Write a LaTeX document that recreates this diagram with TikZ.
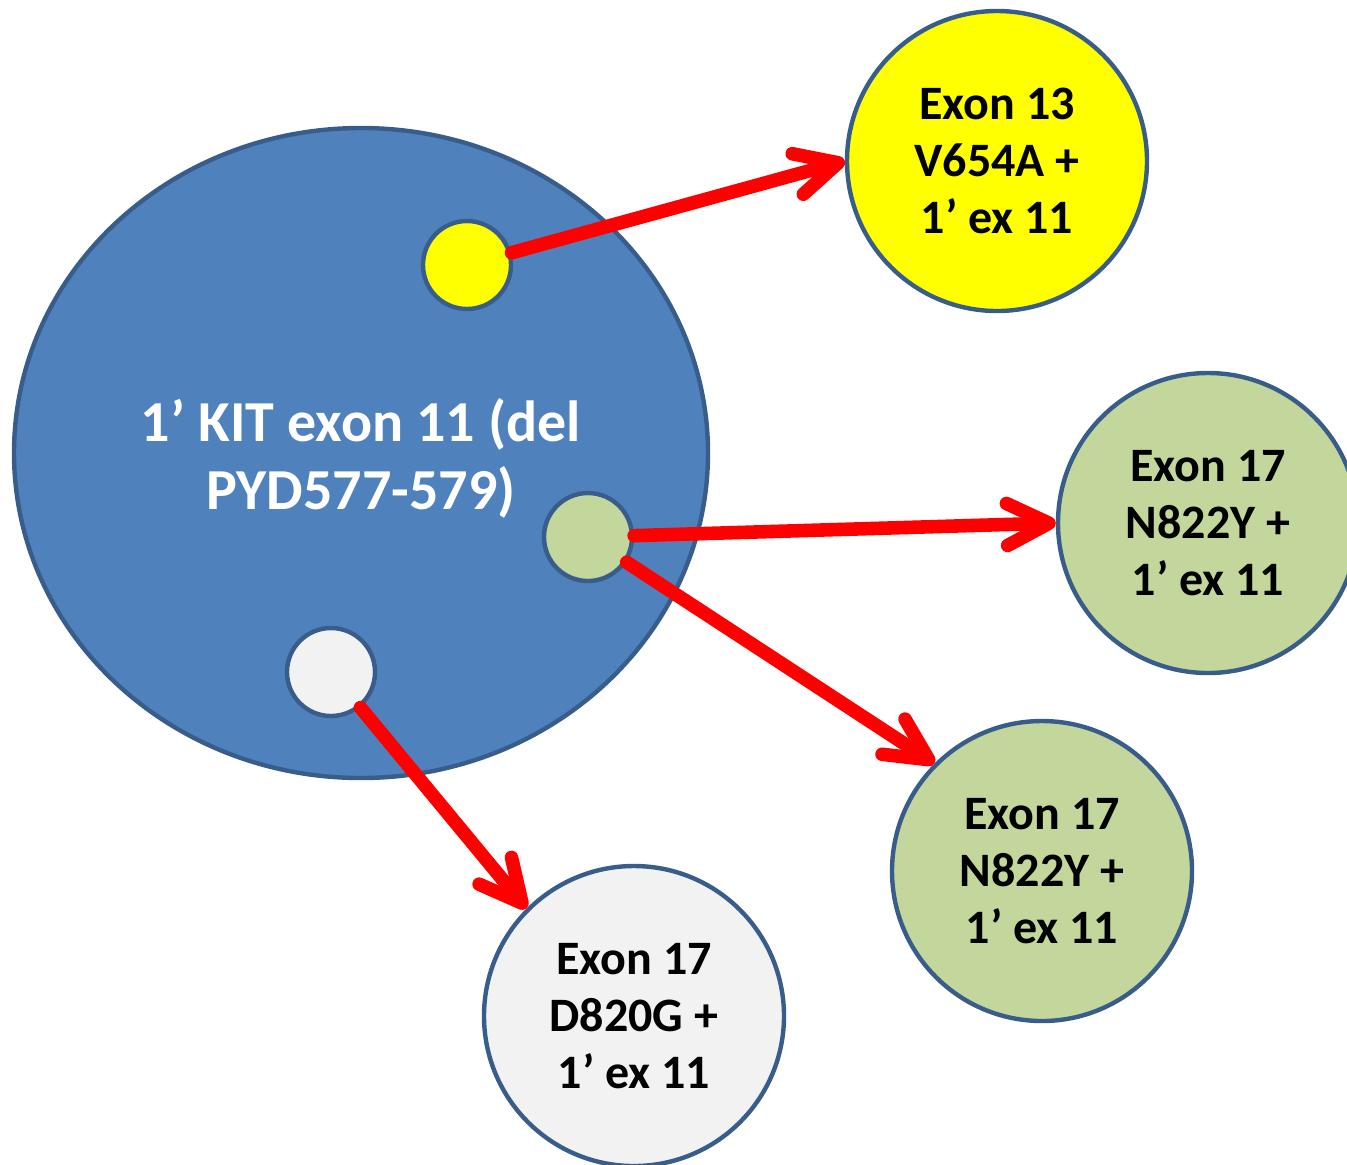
\documentclass[tikz,border=0pt]{standalone}
\usepackage{fontspec}
\setmainfont{Carlito}
\usetikzlibrary{arrows.meta,shapes.geometric}
\definecolor{kitblue}{HTML}{4F81BD}
\definecolor{rimblue}{HTML}{385D8A}
\definecolor{mutyellow}{HTML}{FFFF00}
\definecolor{mutgreen}{HTML}{C3D69B}
\definecolor{mutgray}{HTML}{F2F2F2}
\definecolor{arrowred}{HTML}{FF0000}
\tikzset{
  clone/.style={circle, draw=rimblue, line width=2.2pt, inner sep=0pt},
  subclone/.style={clone, minimum size=150pt, align=center,
    font=\fontsize{24}{28.5}\selectfont\bfseries},
  marker/.style={clone, minimum size=44pt},
  evolve/.style={draw=arrowred, line width=6.8pt, line cap=round,
    -{Straight Barb[length=21pt, width=21pt, round]}},
}
\begin{document}
\begin{tikzpicture}[x=0.5pt, y=-0.5pt]
  \useasboundingbox (0,0) rectangle (1347,1164);
  \clip (0,0) rectangle (1347,1164);
  % primary clone
  \node[draw=rimblue, line width=2.2pt, fill=kitblue, ellipse, minimum width=347pt,
        minimum height=325pt, inner sep=0pt] (kit) at (361,453) {};
  \node[text=white, align=center, font=\fontsize{29}{34}\selectfont\bfseries]
        (kitlabel) at (361,458) {1’ KIT exon 11 (del\\PYD577-579)};
  % markers for the secondary mutations
  \node[marker, fill=mutyellow] (ys) at (467,265) {};
  \node[marker, fill=mutgreen] (gs) at (588,537) {};
  \node[marker, fill=mutgray] (ws) at (331,672) {};
  % secondary clones
  \node[subclone, fill=mutyellow] (yb) at (997,161) {Exon 13\\V654A +\\1’ ex 11};
  \node[subclone, fill=mutgreen] (gr) at (1208,523) {Exon 17\\N822Y +\\1’ ex 11};
  \node[subclone, fill=mutgreen] (gl) at (1042,871) {Exon 17\\N822Y +\\1’ ex 11};
  \node[subclone, fill=mutgray] (wb) at (634,1016) {Exon 17\\D820G +\\1’ ex 11};
  % arrows
  \draw[evolve] (ys) -- (yb.west);
  \draw[evolve] (gs) -- (gr.west);
  \draw[evolve] (gs) -- (gl.135);
  \draw[evolve] (ws) -- (wb.135);
\end{tikzpicture}
\end{document}
